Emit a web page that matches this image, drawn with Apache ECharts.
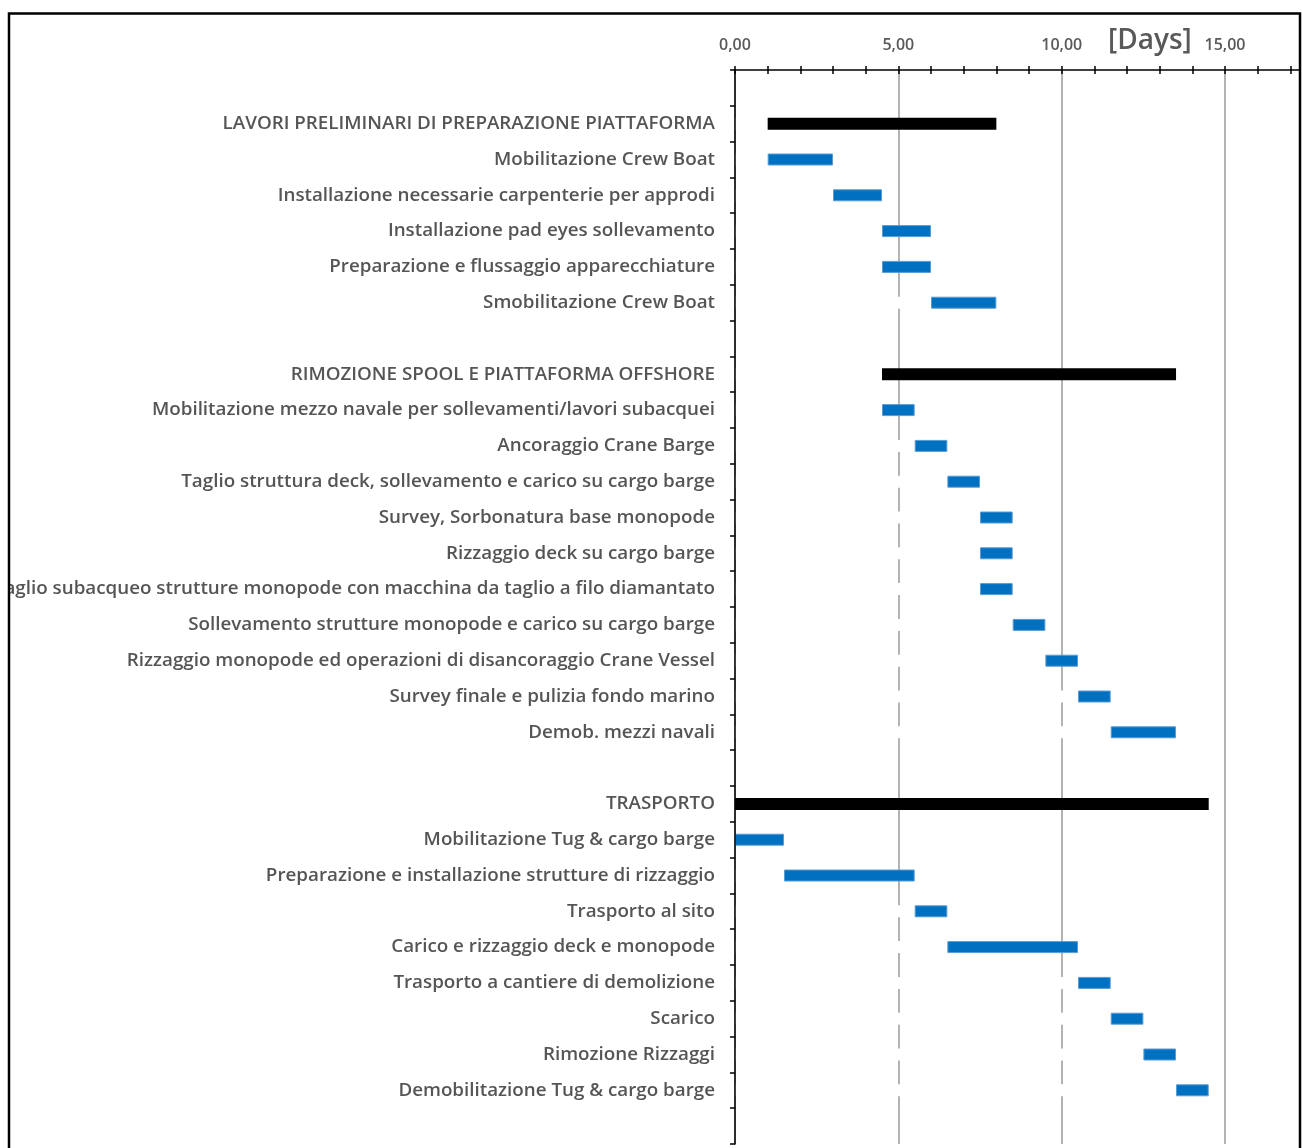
<!DOCTYPE html>
<html>
<head>
<meta charset="utf-8">
<script src="https://cdn.jsdelivr.net/npm/echarts@6/dist/echarts.min.js"></script>
<style>
  html, body { margin: 0; padding: 0; background: #fff; }
  #chart { width: 1302px; height: 1148px; }
</style>
</head>
<body>
<div id="chart"></div>
<script>
// Activity rows, top to bottom (blank strings are spacer rows)
const tasks = [
  '',
  'LAVORI PRELIMINARI DI PREPARAZIONE PIATTAFORMA',
  'Mobilitazione Crew Boat',
  'Installazione necessarie carpenterie per approdi',
  'Installazione pad eyes sollevamento',
  'Preparazione e flussaggio apparecchiature',
  'Smobilitazione Crew Boat',
  ' ',
  'RIMOZIONE SPOOL E PIATTAFORMA OFFSHORE',
  'Mobilitazione mezzo navale per sollevamenti/lavori subacquei',
  'Ancoraggio Crane Barge',
  'Taglio struttura deck, sollevamento e carico su cargo barge',
  'Survey, Sorbonatura base monopode',
  'Rizzaggio deck su cargo barge',
  'Taglio subacqueo strutture monopode con macchina da taglio a filo diamantato',
  'Sollevamento strutture monopode e carico su cargo barge',
  'Rizzaggio monopode ed operazioni di disancoraggio Crane Vessel',
  'Survey finale e pulizia fondo marino',
  'Demob. mezzi navali',
  '  ',
  'TRASPORTO',
  'Mobilitazione Tug & cargo barge',
  'Preparazione e installazione strutture di rizzaggio',
  'Trasporto al sito',
  'Carico e rizzaggio deck e monopode',
  'Trasporto a cantiere di demolizione',
  'Scarico',
  'Rimozione Rizzaggi',
  'Demobilitazione Tug & cargo barge',
  '   '
];

// Start day of each activity
const startDay = [
  null,
  1.0, 1.0, 3.0, 4.5, 4.5, 6.0,
  null,
  4.5, 4.5, 5.5, 6.5, 7.5, 7.5, 7.5, 8.5, 9.5, 10.5, 11.5,
  null,
  0.0, 0.0, 1.5, 5.5, 6.5, 10.5, 11.5, 12.5, 13.5,
  null
];

// End day of each activity
const endDay = [
  null,
  8.0, 3.0, 4.5, 6.0, 6.0, 8.0,
  null,
  13.5, 5.5, 6.5, 7.5, 8.5, 8.5, 8.5, 9.5, 10.5, 11.5, 13.5,
  null,
  14.5, 1.5, 5.5, 6.5, 10.5, 11.5, 12.5, 13.5, 14.5,
  null
];

// Summary (phase) rows
const phaseRows = [
  'LAVORI PRELIMINARI DI PREPARAZIONE PIATTAFORMA',
  'RIMOZIONE SPOOL E PIATTAFORMA OFFSHORE',
  'TRASPORTO'
];

// Labelled days on the time scale
const dayTicks = [0, 5, 10, 15];
const axisTitle = '[Days]';

const durationData = tasks.map((t, i) => {
  if (startDay[i] == null) return null;
  const phase = phaseRows.includes(t);
  return {
    value: endDay[i] - startDay[i],
    itemStyle: phase
      ? { color: '#000000' }
      : { color: '#0070C0', borderColor: '#5B9BD5', borderWidth: 1 }
  };
});

const fmtDay = v => dayTicks.includes(v) ? v.toFixed(2).replace('.', ',') : '';

const chart = echarts.init(document.getElementById('chart'));
const pxPerDay = 32.67, dayMax = 17.3;
const tickStyle = { color: '#000', width: 1.5 };

chart.setOption({
  animation: false,
  backgroundColor: '#ffffff',
  grid: {
    left: 735, top: 70, width: pxPerDay * dayMax, height: 1074,
    containLabel: false, outerBoundsMode: 'none'
  },
  xAxis: [
    {
      // day ticks (outward half) with labels
      type: 'value', position: 'top', min: 0, max: dayMax, interval: 1, z: 1,
      axisLine: { show: true, lineStyle: { color: '#000', width: 1.5 } },
      axisTick: { show: true, inside: false, length: 4, lineStyle: tickStyle },
      splitLine: { show: false },
      axisLabel: {
        formatter: fmtDay, margin: 17, color: '#595959',
        fontFamily: 'Open Sans', fontWeight: 600, fontSize: 16
      }
    },
    {
      // inward half of the day ticks
      type: 'value', position: 'top', min: 0, max: dayMax, interval: 1, z: 1,
      axisLine: { show: false },
      axisTick: { show: true, inside: true, length: 4, lineStyle: tickStyle },
      splitLine: { show: false },
      axisLabel: { show: false }
    },
    {
      // vertical grid lines every 5 days
      type: 'value', position: 'top', min: 0, max: dayMax, interval: 5, z: 0,
      axisLine: { show: false },
      axisTick: { show: false },
      splitLine: { show: true, lineStyle: { color: '#9a9a9a', width: 1.5 } },
      axisLabel: { show: false }
    }
  ],
  yAxis: {
    type: 'category', data: tasks, inverse: true, z: 10,
    axisLine: { show: true, lineStyle: { color: '#000', width: 1.5 } },
    axisTick: { show: true, inside: false, length: 5, lineStyle: tickStyle },
    splitLine: { show: false },
    axisLabel: {
      margin: 20, color: '#555555', fontFamily: 'Open Sans',
      fontWeight: 600, fontSize: 18.8, padding: [4, 0, 0, 0]
    }
  },
  series: [
    {
      // offset segment: white fill, hides the grid lines behind it
      type: 'bar', stack: 'plan', barWidth: 12, silent: true, xAxisIndex: 0,
      itemStyle: { color: '#ffffff' },
      data: startDay
    },
    {
      type: 'bar', stack: 'plan', barWidth: 12, xAxisIndex: 0,
      data: durationData
    }
  ],
  graphic: [
    { type: 'rect', z: 100, shape: { x: 0, y: 0, width: 8, height: 1148 }, style: { fill: '#fff' } },
    {
      type: 'rect', z: 101,
      shape: { x: 9, y: 13.5, width: 1291, height: 1200 },
      style: { fill: 'none', stroke: '#000', lineWidth: 2.5 }
    },
    {
      type: 'text', z: 50, left: 1108, top: 27,
      style: { text: axisTitle, fill: '#595959', font: '600 28px "Open Sans"' }
    }
  ]
});
</script>
</body>
</html>
